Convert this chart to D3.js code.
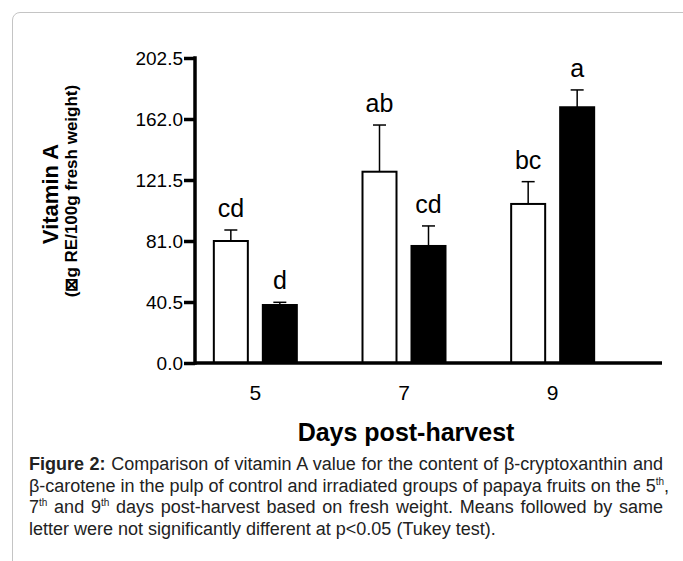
<!DOCTYPE html>
<html>
<head>
<meta charset="utf-8">
<script src="https://cdn.jsdelivr.net/npm/d3@7"></script>
<style>
  html, body { margin: 0; padding: 0; background: #fff; }
  body { width: 683px; height: 561px; overflow: hidden; position: relative; font-family: "Liberation Sans", Arial, sans-serif; }
  #card { position: absolute; left: 12px; top: 12px; width: 700px; height: 600px; border: 1px solid #c4c4c4; border-radius: 8px; box-sizing: border-box; }
  #chart { position: absolute; left: 0; top: 0; }
  #caption { position: absolute; left: 29px; top: 454px; width: 634px; font-size: 18px; line-height: 21.7px; color: #222; }
  #caption div { text-align: justify; text-align-last: justify; white-space: nowrap; }
  #caption div.last { text-align-last: left; }
  #caption sup { font-size: 10px; line-height: 0; vertical-align: 7px; }
</style>
</head>
<body>
<div id="card"></div>
<svg id="chart" width="683" height="561"></svg>
<div id="caption"></div>
<script>
// data (vitamin A, µg RE/100g fresh weight)
const days = ['5', '7', '9'];
const groups = ['control', 'irradiated'];
const control = [81.0, 127.0, 105.6];
const controlErr = [88.3, 158.0, 120.4];
const irradiated = [38.5, 77.7, 169.8];
const irradiatedErr = [40.3, 91.0, 181.3];
const controlLetters = ['cd', 'ab', 'bc'];
const irradiatedLetters = ['d', 'cd', 'a'];
const yTicks = [0, 40.5, 81, 121.5, 162, 202.5];

const rows = [];
days.forEach((day, i) => {
  rows.push({ day, group: 'control', value: control[i], err: controlErr[i], letter: controlLetters[i] });
  rows.push({ day, group: 'irradiated', value: irradiated[i], err: irradiatedErr[i], letter: irradiatedLetters[i] });
});

const svg = d3.select('#chart');
const axisX = 195, axisRight = 662;

const y = d3.scaleLinear().domain([0, 202.5]).range([363, 58]);
const x0 = d3.scaleBand().domain(days).range([181, 627]);
const mid = x0.bandwidth() / 2;
const x1 = d3.scaleBand().domain(groups).range([mid - 41.5, mid + 41.5]).paddingInner(0.306);

// bars
const bar = svg.append('g').selectAll('g').data(rows).enter().append('g')
  .attr('transform', d => `translate(${x0(d.day) + x1(d.group)},0)`);

bar.append('line')
  .attr('x1', x1.bandwidth() / 2).attr('x2', x1.bandwidth() / 2)
  .attr('y1', d => y(d.value)).attr('y2', d => y(d.err))
  .attr('stroke', '#000').attr('stroke-width', 1.5);
bar.append('line')
  .attr('x1', x1.bandwidth() / 2 - 6.5).attr('x2', x1.bandwidth() / 2 + 6.5)
  .attr('y1', d => y(d.err)).attr('y2', d => y(d.err))
  .attr('stroke', '#000').attr('stroke-width', 1.5);

bar.append('rect')
  .attr('x', 0).attr('width', x1.bandwidth())
  .attr('y', d => y(d.value)).attr('height', d => y(0) - y(d.value))
  .attr('fill', d => d.group === 'control' ? '#fff' : '#000')
  .attr('stroke', '#000').attr('stroke-width', 2);

bar.append('text')
  .attr('x', x1.bandwidth() / 2).attr('y', d => y(d.err) - 13)
  .attr('text-anchor', 'middle').attr('font-size', 25).attr('fill', '#000')
  .text(d => d.letter);

// y axis
const yAxis = svg.append('g').attr('transform', `translate(${axisX},0)`)
  .call(d3.axisLeft(y).tickValues(yTicks).tickFormat(d3.format('.1f')).tickSize(11).tickPadding(1));
yAxis.select('.domain').remove();
yAxis.selectAll('.tick line').attr('stroke', '#000').attr('stroke-width', 3.5);
yAxis.selectAll('.tick text').attr('font-size', 19).attr('fill', '#000')
  .attr('font-family', '"Liberation Sans", Arial, sans-serif');
svg.append('line').attr('x1', axisX).attr('x2', axisX).attr('y1', y(202.5) - 1.75).attr('y2', y(0) + 1.75)
  .attr('stroke', '#000').attr('stroke-width', 3.5);

// x axis
svg.append('line').attr('x1', axisX).attr('x2', axisRight).attr('y1', y(0)).attr('y2', y(0))
  .attr('stroke', '#000').attr('stroke-width', 3.5);
svg.append('g').selectAll('text').data(days).enter().append('text')
  .attr('x', d => x0(d) + mid).attr('y', 400)
  .attr('text-anchor', 'middle').attr('font-size', 21).text(d => d);

svg.append('text').attr('x', 406).attr('y', 441).attr('text-anchor', 'middle')
  .attr('font-size', 25).attr('font-weight', 'bold').text('Days post-harvest');

// y title
svg.append('text').attr('transform', 'translate(58,194) rotate(-90)').attr('text-anchor', 'middle')
  .attr('font-size', 22).attr('font-weight', 'bold').text('Vitamin A');
svg.append('text').attr('transform', 'translate(77,191) rotate(-90)').attr('text-anchor', 'middle')
  .attr('font-size', 17).attr('font-weight', 'bold').text('(\u22A0g RE/100g fresh weight)');

// caption
const captionLines = [
  '<b>Figure 2:</b> Comparison of vitamin A value for the content of β-cryptoxanthin and',
  'β-carotene in the pulp of control and irradiated groups of papaya fruits on the 5<sup>th</sup>,',
  '7<sup>th</sup> and 9<sup>th</sup> days post-harvest based on fresh weight. Means followed by same',
  'letter were not significantly different at p&lt;0.05 (Tukey test).'
];
d3.select('#caption').selectAll('div').data(captionLines).enter().append('div')
  .attr('class', (d, i) => i === captionLines.length - 1 ? 'last' : null)
  .html(d => d);
</script>
</body>
</html>
